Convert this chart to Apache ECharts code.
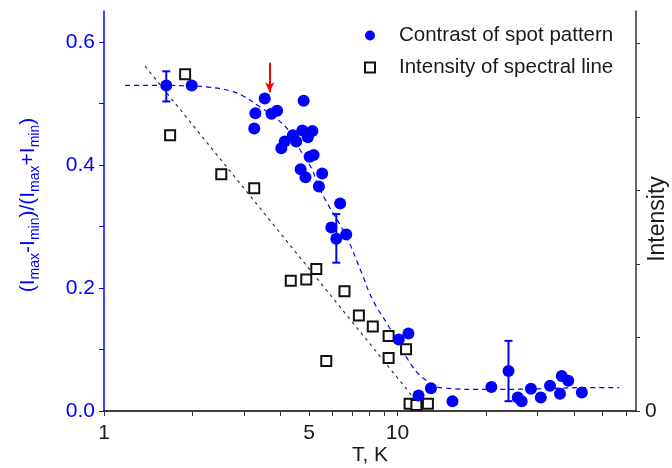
<!DOCTYPE html>
<html>
<head>
<meta charset="utf-8">
<script src="https://cdn.jsdelivr.net/npm/echarts@6/dist/echarts.min.js"></script>
<style>
  html, body { margin: 0; padding: 0; background: #fff; }
  #chart { width: 672px; height: 468px; }
</style>
</head>
<body>
<div id="chart"></div>
<script>
// contrast of spot pattern: [T, value]
const contrastPoints = [
  [1.63, 0.529], [1.99, 0.529], [3.53, 0.508], [4.79, 0.504], [3.28, 0.484],
  [3.25, 0.459], [3.72, 0.483], [3.89, 0.488], [4.13, 0.438], [4.02, 0.427],
  [4.40, 0.448], [4.52, 0.438], [4.74, 0.456], [4.95, 0.445], [5.13, 0.455],
  [5.02, 0.413], [5.18, 0.416], [4.68, 0.393], [4.86, 0.380], [5.54, 0.386],
  [5.40, 0.365], [6.38, 0.337], [5.95, 0.298], [6.19, 0.280], [6.69, 0.287],
  [10.1, 0.116], [10.9, 0.126], [11.8, 0.025], [13.0, 0.037], [15.4, 0.016],
  [20.9, 0.039], [23.9, 0.065], [25.7, 0.022], [26.5, 0.016], [28.5, 0.036],
  [30.8, 0.022], [33.1, 0.041], [35.8, 0.028], [36.3, 0.057], [38.2, 0.049],
  [42.5, 0.030]
];
// error bars: [T, low, high]
const contrastErrors = [
  [1.63, 0.503, 0.552],
  [6.19, 0.241, 0.320],
  [23.9, 0.016, 0.114]
];
// intensity of spectral line (arb. units, right axis)
const intensityPoints = [
  [1.68, 3.75], [1.89, 4.58], [2.51, 3.22], [3.25, 3.03], [4.33, 1.77],
  [4.89, 1.79], [5.29, 1.93], [5.72, 0.68], [6.6, 1.63], [7.39, 1.30],
  [8.24, 1.15], [9.33, 1.02], [9.33, 0.72], [10.7, 0.84], [11.0, 0.10],
  [11.6, 0.08], [12.7, 0.10]
];
// dashed guide curves
const contrastFit = [
  [1.18, 0.529], [1.6, 0.529], [2.0, 0.528], [2.3, 0.526], [2.7, 0.520],
  [3.0, 0.511], [3.4, 0.494], [3.9, 0.474], [4.35, 0.450], [4.65, 0.425],
  [5.1, 0.394], [5.35, 0.368], [5.7, 0.342], [6.7, 0.283], [7.5, 0.228],
  [8.25, 0.180], [9.3, 0.139], [10.7, 0.088], [12.5, 0.050], [14.6, 0.037],
  [20, 0.035], [30, 0.036], [45, 0.038], [57, 0.038]
];
const intensityFit = [[1.38, 4.69], [11.3, 0.19]];
const arrowMark = [[3.67, 0.566], [3.67, 0.518]];

const xTicks = [1, 2, 3, 4, 5, 6, 7, 8, 9, 10, 20, 30, 40, 50, 60];
const xLabels = [1, 5, 10];
const yTicks = [0, 0.1, 0.2, 0.3, 0.4, 0.5, 0.6];
const yLabels = [0, 0.2, 0.4, 0.6];
const rightTicks = [0, 1, 2, 3, 4, 5];
const rightLabels = [0];

const BLUE = '#0000ff';
const FONT = '"Liberation Sans", Arial, sans-serif';

const chart = echarts.init(document.getElementById('chart'), null, { renderer: 'canvas' });

const option = {
  animation: false,
  grid: { left: 104, right: 36, top: 11, bottom: 57, containLabel: false, outerBoundsMode: 'none' },
  legend: {
    orient: 'vertical',
    left: 364,
    top: 25,
    padding: 0,
    itemWidth: 10,
    itemHeight: 10,
    itemGap: 11,
    symbolKeepAspect: true,
    textStyle: { fontSize: 20.5, color: '#1a1a1a', fontFamily: FONT, padding: [0, 0, 0, 19] },
    data: [
      { name: 'Contrast of spot pattern', icon: 'circle' },
      { name: 'Intensity of spectral line', icon: 'path://M0,0L10,0L10,10L0,10Z' }
    ]
  },
  xAxis: [
    {
      type: 'log',
      logBase: 10,
      min: 1,
      max: 65,
      position: 'bottom',
      name: 'T, K',
      nameLocation: 'middle',
      nameGap: 34,
      nameMoveOverlap: false,
      nameTextStyle: { fontSize: 21, color: '#1a1a1a', fontFamily: FONT },
      axisLine: { lineStyle: { color: '#333', width: 1.5 } },
      axisTick: { inside: false, length: 5, customValues: xTicks, lineStyle: { color: '#333' } },
      axisLabel: { customValues: xLabels, margin: 12, fontSize: 21, color: '#1a1a1a', fontFamily: FONT },
      splitLine: { show: false },
      minorTick: { show: false }
    },
    {
      type: 'log',
      logBase: 10,
      min: 1,
      max: 65,
      position: 'top',
      axisLine: { lineStyle: { color: '#333', width: 1.5 } },
      axisTick: { inside: true, length: 4, customValues: xTicks, lineStyle: { color: '#333' } },
      axisLabel: { show: false },
      splitLine: { show: false }
    }
  ],
  yAxis: [
    {
      type: 'value',
      min: 0,
      max: 0.65,
      position: 'left',
      name: '(I{s|max}-I{s|min})/(I{s|max}+I{s|min})',
      nameLocation: 'middle',
      nameGap: 62,
      nameMoveOverlap: false,
      nameTextStyle: {
        fontSize: 21, color: BLUE, fontFamily: FONT, padding: [0, 0, 0, 12],
        rich: { s: { fontSize: 14, color: BLUE, fontFamily: FONT, padding: [13, 0, 0, 0] } }
      },
      axisLine: { lineStyle: { color: BLUE, width: 1.5 } },
      axisTick: { length: 5, customValues: yTicks, lineStyle: { color: BLUE } },
      axisLabel: {
        customValues: yLabels, margin: 9, fontSize: 21, color: BLUE, fontFamily: FONT,
        formatter: v => v.toFixed(1)
      },
      splitLine: { show: false }
    },
    {
      type: 'value',
      min: 0,
      max: 5.44,
      position: 'right',
      name: 'Intensity',
      nameLocation: 'middle',
      nameRotate: 90,
      nameGap: 10,
      nameMoveOverlap: false,
      nameTextStyle: { fontSize: 23, color: '#1a1a1a', fontFamily: FONT, padding: [0, 16, 0, 0] },
      axisLine: { lineStyle: { color: '#333', width: 1.5 } },
      axisTick: { length: 4, customValues: rightTicks, lineStyle: { color: '#333' } },
      axisLabel: { customValues: rightLabels, margin: 9, fontSize: 21, color: '#1a1a1a', fontFamily: FONT },
      splitLine: { show: false }
    }
  ],
  series: [
    {
      name: 'Contrast of spot pattern fit',
      type: 'line',
      yAxisIndex: 0,
      data: contrastFit,
      smooth: true,
      symbol: 'none',
      lineStyle: { color: BLUE, width: 1.2, type: [5, 4] },
      z: 1,
      markLine: {
        silent: true,
        symbol: ['none', 'arrow'],
        symbolSize: [7, 10],
        label: { show: false },
        lineStyle: { color: '#ff0000', width: 2, type: 'solid' },
        data: [[{ coord: arrowMark[0] }, { coord: arrowMark[1] }]]
      }
    },
    {
      name: 'Intensity fit',
      type: 'line',
      yAxisIndex: 1,
      data: intensityFit,
      symbol: 'none',
      lineStyle: { color: '#333', width: 1.2, type: [3, 4] },
      z: 1
    },
    {
      name: 'Contrast of spot pattern',
      type: 'scatter',
      yAxisIndex: 0,
      data: contrastPoints,
      symbol: 'circle',
      symbolSize: 12,
      itemStyle: { color: BLUE, opacity: 1 },
      z: 3
    },
    {
      name: 'Intensity of spectral line',
      type: 'scatter',
      yAxisIndex: 1,
      data: intensityPoints,
      symbol: 'rect',
      symbolSize: 10,
      itemStyle: { color: '#fff', borderColor: '#111', borderWidth: 2, opacity: 1 },
      z: 2
    },
    {
      name: 'error bars',
      type: 'custom',
      yAxisIndex: 0,
      data: contrastErrors,
      encode: { x: 0, y: [1, 2] },
      z: 4,
      renderItem: function (params, api) {
        const lo = api.coord([api.value(0), api.value(1)]);
        const hi = api.coord([api.value(0), api.value(2)]);
        const cap = 4;
        const style = { stroke: BLUE, lineWidth: 2 };
        return {
          type: 'group',
          children: [
            { type: 'line', shape: { x1: lo[0], y1: lo[1], x2: hi[0], y2: hi[1] }, style },
            { type: 'line', shape: { x1: lo[0] - cap, y1: lo[1], x2: lo[0] + cap, y2: lo[1] }, style },
            { type: 'line', shape: { x1: hi[0] - cap, y1: hi[1], x2: hi[0] + cap, y2: hi[1] }, style }
          ]
        };
      }
    }
  ]
};

chart.setOption(option);
</script>
</body>
</html>
